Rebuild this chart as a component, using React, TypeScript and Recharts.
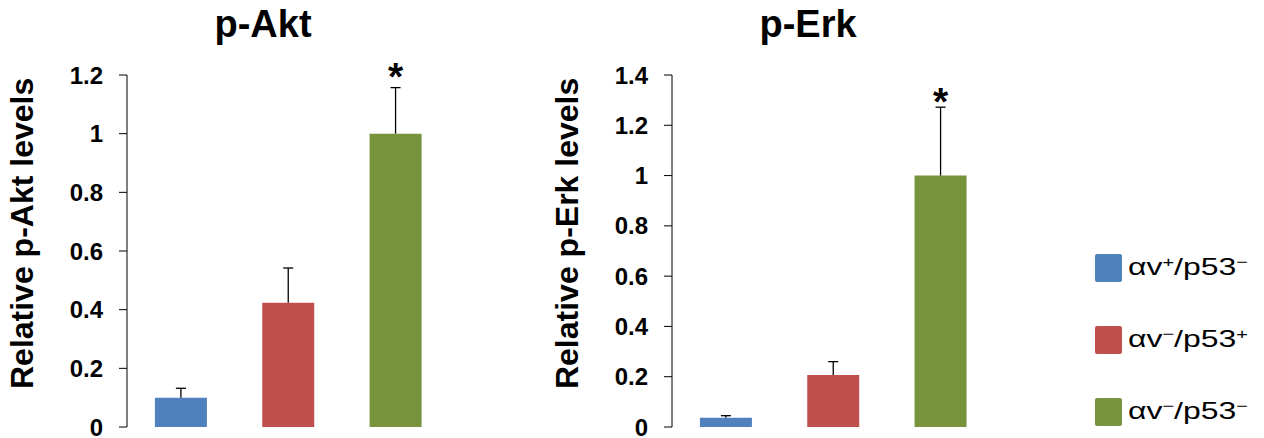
import React from 'react';
import { BarChart, Bar, XAxis, YAxis, Cell, LabelList } from 'recharts';

const categories = ['αv+/p53−', 'αv−/p53+', 'αv−/p53−'];
const barColors = ['#4F81BD', '#C0504D', '#77933C'];
const significance = ['', '', '*'];

const titles = ['p-Akt', 'p-Erk'];
const yLabels = ['Relative p-Akt levels', 'Relative p-Erk levels'];

const aktMean = [0.1, 0.424, 1.0];
const aktErr = [0.032, 0.118, 0.157];
const aktTicks = [0, 0.2, 0.4, 0.6, 0.8, 1, 1.2];

const erkMean = [0.037, 0.207, 1.0];
const erkErr = [0.008, 0.053, 0.272];
const erkTicks = [0, 0.2, 0.4, 0.6, 0.8, 1, 1.2, 1.4];

const edgeTicks = [0, 1, 2, 3];

const FONT = 'Liberation Sans, Arial, sans-serif';

const ErrorWhisker = (props: any) => {
  const { x, y, width, height } = props;
  if (!height) return null;
  const cx = x + width / 2;
  return (
    <g>
      <line x1={cx} x2={cx} y1={y + height} y2={y} stroke="#000" strokeWidth={1.3} />
      <line x1={cx - 5} x2={cx + 5} y1={y} y2={y} stroke="#000" strokeWidth={1.3} />
    </g>
  );
};

type PanelProps = {
  left: number;
  mean: number[];
  err: number[];
  ticks: number[];
  yLabel: string;
  starOffset: number;
};

const Panel: React.FC<PanelProps> = ({ left, mean, err, ticks, yLabel, starOffset }) => {
  const data = categories.map((name, i) => ({
    name,
    mean: mean[i],
    err: err[i],
    sig: significance[i],
  }));
  const max = ticks[ticks.length - 1];

  return (
    <div style={{ position: 'absolute', left, top: 0 }}>
      <BarChart
        width={470}
        height={438}
        data={data}
        margin={{ top: 75, right: 21, bottom: 0, left: 0 }}
        barCategoryGap="26%"
      >
        <XAxis xAxisId="cat" dataKey="name" hide />
        <XAxis
          xAxisId="edges"
          type="number"
          domain={[0, 3]}
          ticks={edgeTicks}
          allowDataOverflow
          height={11}
          tickSize={7}
          tickFormatter={() => ''}
          axisLine={{ stroke: '#000' }}
          tickLine={{ stroke: '#000' }}
          interval={0}
        />
        <YAxis
          width={127}
          domain={[0, max]}
          ticks={ticks}
          allowDataOverflow
          interval={0}
          tickSize={8}
          tickMargin={16}
          axisLine={{ stroke: '#000' }}
          tickLine={{ stroke: '#000' }}
          tick={{ fill: '#000', fontSize: 24, fontWeight: 'bold', fontFamily: FONT }}
          label={(p: any) => {
            const vb = p.viewBox || { x: 0, y: 75, height: 352 };
            const cx = vb.x + 33;
            const cy = vb.y + vb.height * 0.45;
            return (
              <text
                transform={`translate(${cx}, ${cy}) rotate(-90)`}
                textAnchor="middle"
                fontSize={32}
                fontWeight="bold"
                fontFamily={FONT}
                fill="#000"
              >
                {yLabel}
              </text>
            );
          }}
        />
        <Bar xAxisId="cat" dataKey="mean" stackId="s" isAnimationActive={false}>
          {data.map((d, i) => (
            <Cell key={d.name} fill={barColors[i]} />
          ))}
        </Bar>
        <Bar
          xAxisId="cat"
          dataKey="err"
          stackId="s"
          fill="none"
          shape={ErrorWhisker}
          isAnimationActive={false}
        >
          <LabelList
            dataKey="sig"
            position="top"
            offset={starOffset}
            fill="#000"
            fontSize={39}
            fontWeight="bold"
            fontFamily={FONT}
          />
        </Bar>
      </BarChart>
    </div>
  );
};

const LegendLabel: React.FC<{ name: string; x: number; y: number }> = ({ name, x, y }) => {
  const m = name.match(/^(αv)(.)(\/p53)(.)$/);
  const parts = m ? [m[1], m[2], m[3], m[4]] : [name, '', '', ''];
  return (
    <text
      x={x}
      y={y}
      fontSize={24}
      fontFamily={FONT}
      fill="#000"
      textLength={120}
      lengthAdjust="spacingAndGlyphs"
    >
      <tspan>{parts[0]}</tspan>
      <tspan fontSize={15} dy={-8}>{parts[1]}</tspan>
      <tspan dy={8}>{parts[2]}</tspan>
      <tspan fontSize={15} dy={-8}>{parts[3]}</tspan>
    </text>
  );
};

export default function App() {
  return (
    <div style={{ position: 'absolute', left: 0, top: 0, width: 1264, height: 438, background: '#fff' }}>
      <Panel left={0} mean={aktMean} err={aktErr} ticks={aktTicks} yLabel={yLabels[0]} starOffset={-2} />
      <Panel left={545} mean={erkMean} err={erkErr} ticks={erkTicks} yLabel={yLabels[1]} starOffset={-8} />
      <svg
        width={1264}
        height={438}
        style={{ position: 'absolute', left: 0, top: 0, pointerEvents: 'none' }}
      >
        {titles.map((t, i) => (
          <text
            key={t}
            x={263 + i * 545}
            y={37}
            textAnchor="middle"
            fontSize={38}
            fontWeight="bold"
            fontFamily={FONT}
            fill="#000"
          >
            {t}
          </text>
        ))}
        {categories.map((name, i) => (
          <g key={name}>
            <rect x={1095} y={254 + i * 72} width={27} height={28} rx={2} fill={barColors[i]} />
            <LegendLabel name={name} x={1128} y={275 + i * 72} />
          </g>
        ))}
      </svg>
    </div>
  );
}
